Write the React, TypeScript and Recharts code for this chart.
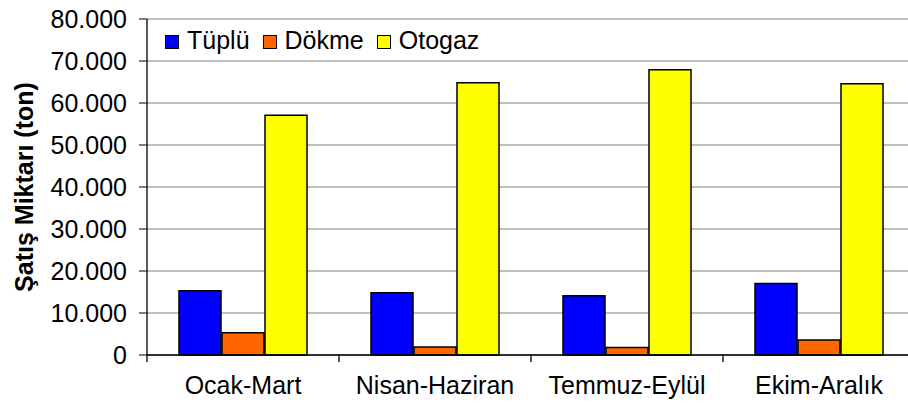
import { BarChart, Bar, XAxis, YAxis, CartesianGrid } from "recharts";

const periods = ["Ocak-Mart", "Nisan-Haziran", "Temmuz-Eylül", "Ekim-Aralık"];
const tuplu = [15300, 14800, 14100, 17000];
const dokme = [5300, 1900, 1800, 3600];
const otogaz = [57100, 64800, 67900, 64600];
const yTicks = [0, 10000, 20000, 30000, 40000, 50000, 60000, 70000, 80000];

const series = [
  { key: "tuplu", name: "Tüplü", color: "#0000FF" },
  { key: "dokme", name: "Dökme", color: "#FF6600" },
  { key: "otogaz", name: "Otogaz", color: "#FFFF00" },
];

const data = periods.map((p, i) => ({
  period: p,
  tuplu: tuplu[i],
  dokme: dokme[i],
  otogaz: otogaz[i],
}));

const FONT = "'Liberation Sans', Arial, sans-serif";
const TICK_MARGIN = 21;

const fmt = (v: number) => String(v).replace(/\B(?=(\d{3})+(?!\d))/g, ".");

// category label + a short tick mark on the left edge of each band (Excel style)
function CategoryTick(props: any) {
  const { x, y, payload } = props;
  const half = payload.offset ?? 0;
  const axisY = y - TICK_MARGIN;
  return (
    <g>
      <line x1={x - half} x2={x - half} y1={axisY} y2={axisY + 7} stroke="#000" strokeWidth={1.3} />
      <text x={x} y={y} dy="0.71em" textAnchor="middle" fill="#000" fontSize={25} fontFamily={FONT}>
        {payload.value}
      </text>
    </g>
  );
}

function LegendBox() {
  return (
    <div
      style={{
        position: "absolute",
        left: 165,
        top: 28,
        display: "flex",
        alignItems: "center",
        fontFamily: FONT,
        fontSize: 25,
        lineHeight: "25px",
        color: "#000",
      }}
    >
      {series.map((s) => (
        <div key={s.key} style={{ display: "flex", alignItems: "center", marginRight: 13 }}>
          <span
            style={{
              width: 12,
              height: 12,
              background: s.color,
              border: "1.5px solid #000",
              marginRight: 8,
              marginTop: 2,
              display: "inline-block",
            }}
          />
          <span>{s.name}</span>
        </div>
      ))}
    </div>
  );
}

export default function App() {
  return (
    <div style={{ position: "absolute", left: 0, top: 0, width: 908, height: 414, overflow: "hidden", background: "#fff" }}>
      <BarChart
        width={916}
        height={414}
        data={data}
        margin={{ top: 19, right: 1, left: 0, bottom: 19 }}
        barSize={42}
        barGap={1}
        style={{ fontFamily: FONT }}
      >
        <CartesianGrid stroke="#808080" vertical={false} />
        <XAxis
          dataKey="period"
          height={40}
          axisLine={{ stroke: "#000", strokeWidth: 1.3 }}
          tickLine={false}
          tickSize={0}
          tickMargin={TICK_MARGIN}
          interval={0}
          tick={<CategoryTick />}
        />
        <YAxis
          width={147}
          domain={[0, 80000]}
          ticks={yTicks}
          tickFormatter={fmt}
          tickSize={8}
          tickMargin={12}
          axisLine={{ stroke: "#000", strokeWidth: 1.3 }}
          tickLine={{ stroke: "#000" }}
          tick={{ fill: "#000", fontSize: 25, fontFamily: FONT }}
          label={{
            content: (props: any) => {
              const vb = props.viewBox;
              const x = vb.x + 24;
              const y = vb.y + vb.height / 2;
              return (
                <text
                  x={x}
                  y={y}
                  transform={`rotate(-90, ${x}, ${y})`}
                  textAnchor="middle"
                  dominantBaseline="central"
                  fontFamily={FONT}
                  fontSize={25}
                  fontWeight="bold"
                  fill="#000"
                >
                  Şatış Miktarı (ton)
                </text>
              );
            },
          }}
        />
        {series.map((s) => (
          <Bar
            key={s.key}
            dataKey={s.key}
            name={s.name}
            fill={s.color}
            stroke="#000"
            strokeWidth={1.5}
            isAnimationActive={false}
          />
        ))}
      </BarChart>
      <LegendBox />
    </div>
  );
}
